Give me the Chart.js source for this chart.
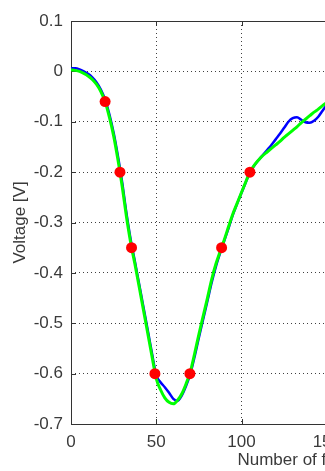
<!DOCTYPE html>
<html>
<head>
<meta charset="utf-8">
<script src="https://cdn.jsdelivr.net/npm/chart.js@4/dist/chart.umd.min.js"></script>
<style>
  html, body { margin: 0; padding: 0; background: #fff; }
  #wrap { width: 325px; height: 471px; overflow: hidden; }
</style>
</head>
<body>
<div id="wrap">
  <canvas id="myChart" width="560" height="471"></canvas>
</div>
<script>
// frame index shared by both curves
const frames = [
  0, 2.5, 5, 7.5, 10, 12.5, 15, 17.5, 20, 22.5,
  25, 27.5, 30, 32.5, 35, 37.5, 40, 42.5, 45, 47.5,
  50, 52.5, 55, 57.5, 60, 62.5, 65, 67.5, 70, 72.5,
  75, 77.5, 80, 82.5, 85, 87.5, 90, 92.5, 95, 97.5,
  100, 102.5, 105, 107.5, 110, 112.5, 115, 117.5, 120, 122.5,
  125, 127.5, 130, 132.5, 135, 137.5, 140, 142.5, 145, 147.5, 150
];

// measured voltage (blue)
const measured = [
  0.006, 0.006, 0.004, 0.000, -0.005, -0.012, -0.022, -0.036, -0.056, -0.085,
  -0.122, -0.168, -0.220, -0.281, -0.334, -0.378, -0.423, -0.468, -0.514, -0.560,
  -0.603, -0.617, -0.627, -0.638, -0.650, -0.654, -0.643, -0.624, -0.600, -0.566,
  -0.528, -0.492, -0.456, -0.419, -0.387, -0.360, -0.335, -0.310, -0.284, -0.262,
  -0.241, -0.220, -0.200, -0.187, -0.176, -0.166, -0.156, -0.146, -0.135, -0.124,
  -0.112, -0.100, -0.093, -0.091, -0.096, -0.101, -0.102, -0.098, -0.090, -0.078, -0.066
];

// fitted voltage (green)
const fitted = [
  0.003, 0.002, 0.000, -0.004, -0.009, -0.016, -0.026, -0.040, -0.060, -0.091,
  -0.128, -0.175, -0.228, -0.288, -0.340, -0.383, -0.428, -0.474, -0.520, -0.566,
  -0.610, -0.632, -0.648, -0.657, -0.660, -0.653, -0.640, -0.620, -0.596, -0.560,
  -0.522, -0.486, -0.450, -0.413, -0.382, -0.357, -0.333, -0.307, -0.282, -0.261,
  -0.240, -0.219, -0.199, -0.186, -0.176, -0.167, -0.160, -0.153, -0.146, -0.139,
  -0.131, -0.124, -0.117, -0.110, -0.102, -0.095, -0.088, -0.081, -0.075, -0.068, -0.062
];

// red marker points
const markerX = [20, 28.7, 35.5, 49.2, 69.7, 88.3, 104.9];
const markerY = [-0.06, -0.2, -0.35, -0.6, -0.6, -0.35, -0.2];

const xTicks = [0, 50, 100, 150, 200, 250];
const yTicks = [0.1, 0, -0.1, -0.2, -0.3, -0.4, -0.5, -0.6, -0.7];

const toPoints = (xs, ys) => xs.map((x, i) => ({ x: x, y: ys[i] }));

const font = { family: 'Arial, "Liberation Sans", sans-serif', size: 17 };

// matlab-like box with inward ticks
const boxPlugin = {
  id: "box",
  beforeDatasetsDraw(chart) {
    const { ctx, chartArea: a, scales } = chart;
    ctx.save();
    ctx.strokeStyle = "#333";
    ctx.lineWidth = 1;
    ctx.strokeRect(a.left + 0.5, a.top + 0.5, a.right - a.left, a.bottom - a.top);
    ctx.beginPath();
    xTicks.forEach((v) => {
      const px = Math.round(scales.x.getPixelForValue(v)) + 0.5;
      ctx.moveTo(px, a.bottom); ctx.lineTo(px, a.bottom - 5);
      ctx.moveTo(px, a.top); ctx.lineTo(px, a.top + 5);
    });
    yTicks.forEach((v) => {
      const py = Math.round(scales.y.getPixelForValue(v)) + 0.5;
      ctx.moveTo(a.left, py); ctx.lineTo(a.left + 5, py);
    });
    ctx.stroke();
    ctx.restore();
  },
};

const ctx = document.getElementById("myChart");

new Chart(ctx, {
  type: "line",
  data: {
    datasets: [
      {
        label: "Markers",
        data: toPoints(markerX, markerY),
        showLine: false,
        pointRadius: 5.5,
        pointBackgroundColor: "#ff0000",
        pointBorderWidth: 0,
        order: 0,
      },
      {
        label: "Fit",
        data: toPoints(frames, fitted),
        borderColor: "#00ff00",
        borderWidth: 3,
        pointRadius: 0,
        cubicInterpolationMode: "monotone",
        order: 1,
      },
      {
        label: "Measured",
        data: toPoints(frames, measured),
        borderColor: "#0000ff",
        borderWidth: 2.5,
        pointRadius: 0,
        cubicInterpolationMode: "monotone",
        order: 2,
      },
    ],
  },
  options: {
    responsive: false,
    animation: false,
    layout: { padding: { top: 21, right: 20, left: 0, bottom: 0 } },
    plugins: { legend: { display: false }, tooltip: { enabled: false } },
    scales: {
      x: {
        type: "linear",
        min: 0,
        max: 275,
        afterBuildTicks: (s) => { s.ticks = xTicks.map((v) => ({ value: v })); },
        afterFit: (s) => { s.height = 47; },
        ticks: { font: font, color: "#3a3a3a", padding: 8, maxRotation: 0, autoSkip: false, callback: (v) => String(v) },
        grid: { color: "rgba(0,0,0,0.75)", lineWidth: 1, drawTicks: false },
        border: { display: false, dash: [1, 3] },
        title: { display: true, text: "Number of frames", font: font, color: "#3a3a3a", padding: { top: 0, bottom: 0 } },
      },
      y: {
        min: -0.7,
        max: 0.1,
        afterBuildTicks: (s) => { s.ticks = yTicks.map((v) => ({ value: v })); },
        afterFit: (s) => { s.width = 71; },
        ticks: { font: font, color: "#3a3a3a", padding: 8, autoSkip: false, callback: (v) => String(v) },
        grid: { color: "rgba(0,0,0,0.75)", lineWidth: 1, drawTicks: false },
        border: { display: false, dash: [1, 3] },
        title: { display: true, text: "Voltage [V]", font: font, color: "#3a3a3a", padding: { top: 10, bottom: 0 } },
      },
    },
  },
  plugins: [boxPlugin],
});
</script>
</body>
</html>
